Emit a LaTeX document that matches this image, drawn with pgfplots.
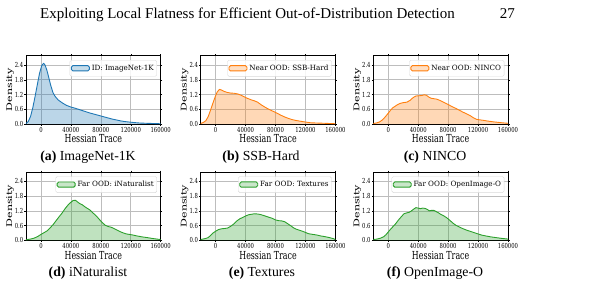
\documentclass[border=0pt]{standalone}
\usepackage{fontspec}
\setmainfont{Liberation Serif}
\newfontfamily\dvs{DejaVu Serif}
\usepackage{pgfplots}
\usepackage{pgfplotstable}
\pgfplotsset{compat=1.18}

\definecolor{mblue}{HTML}{1F77B4}
\definecolor{morange}{HTML}{FF7F0E}
\definecolor{mgreen}{HTML}{2CA02C}

% Hessian-trace densities (density in units of 1e-5)
\pgfplotstableread{
x y
-20000 0.02
-17000 0.10
-14000 0.30
-11000 0.65
-8000 1.10
-5000 1.58
-2000 2.05
1000 2.38
3500 2.47
5500 2.40
8000 2.18
10500 1.88
13000 1.58
16000 1.28
19000 1.12
23000 0.98
28000 0.87
34000 0.76
40000 0.69
46000 0.64
52000 0.58
58000 0.52
64000 0.46
70000 0.41
76000 0.36
82000 0.31
88000 0.26
94000 0.21
100000 0.17
106000 0.13
112000 0.10
118000 0.08
124000 0.06
132000 0.04
140000 0.03
150000 0.02
160000 0.01
}\dataImageNet

\pgfplotstableread{
x y
-20000 0.02
-16000 0.07
-13000 0.14
-10000 0.30
-7000 0.55
-4000 0.82
-1000 1.08
2000 1.30
5000 1.41
8000 1.38
12000 1.32
16000 1.28
20000 1.26
25000 1.25
30000 1.22
34000 1.17
38000 1.11
42000 1.05
47000 0.99
52000 0.94
56000 0.89
60000 0.80
64000 0.72
68000 0.65
73000 0.57
78000 0.50
82000 0.44
87000 0.36
92000 0.29
97000 0.23
102000 0.18
108000 0.14
114000 0.11
120000 0.08
127000 0.05
135000 0.04
145000 0.03
160000 0.01
}\dataSSB

\pgfplotstableread{
x y
-20000 0.02
-16000 0.04
-12000 0.08
-9000 0.14
-6000 0.22
-3000 0.33
0 0.44
3000 0.56
6000 0.66
9000 0.72
12000 0.78
16000 0.84
20000 0.87
25000 0.89
29000 0.96
33000 1.07
37000 1.14
41000 1.15
45000 1.16
48000 1.19
51000 1.17
54000 1.10
57000 1.05
61000 1.03
65000 1.01
69000 0.96
73000 0.90
77000 0.84
81000 0.78
85000 0.71
90000 0.64
95000 0.56
100000 0.48
105000 0.41
110000 0.33
114000 0.25
118000 0.19
122000 0.17
127000 0.15
133000 0.12
140000 0.09
146000 0.07
152000 0.05
160000 0.03
}\dataNINCO

\pgfplotstableread{
x y
-20000 0.02
-14000 0.05
-9000 0.09
-4000 0.16
0 0.24
4000 0.31
8000 0.38
12000 0.50
16000 0.63
20000 0.79
24000 0.95
28000 1.10
32000 1.28
36000 1.43
40000 1.55
43000 1.62
46000 1.63
49000 1.56
52000 1.49
55000 1.45
58000 1.38
62000 1.30
66000 1.22
70000 1.10
74000 0.99
78000 0.85
82000 0.72
86000 0.61
90000 0.56
94000 0.53
98000 0.47
102000 0.41
106000 0.35
110000 0.30
114000 0.26
118000 0.24
122000 0.22
128000 0.18
135000 0.14
142000 0.11
150000 0.07
160000 0.03
}\dataINat

\pgfplotstableread{
x y
-20000 0.03
-14000 0.07
-10000 0.11
-6000 0.22
-3000 0.31
1000 0.39
4000 0.44
8000 0.47
12000 0.48
16000 0.50
20000 0.57
24000 0.66
28000 0.78
32000 0.87
36000 0.93
40000 0.99
44000 1.04
48000 1.06
52000 1.08
56000 1.07
60000 1.05
64000 1.01
68000 0.97
72000 0.93
76000 0.89
80000 0.83
84000 0.80
88000 0.79
92000 0.76
96000 0.68
100000 0.60
104000 0.51
108000 0.45
112000 0.41
116000 0.37
120000 0.32
124000 0.27
128000 0.25
132000 0.23
136000 0.21
140000 0.18
146000 0.15
152000 0.11
157000 0.07
160000 0.03
}\dataTextures

\pgfplotstableread{
x y
-20000 0.03
-15000 0.05
-10000 0.09
-6000 0.15
-3000 0.23
0 0.34
3000 0.45
7000 0.58
10000 0.68
14000 0.84
18000 0.98
21000 1.08
25000 1.12
28000 1.14
31000 1.20
34000 1.27
37000 1.33
40000 1.31
43000 1.29
46000 1.31
49000 1.30
52000 1.26
55000 1.20
58000 1.22
61000 1.22
64000 1.17
67000 1.12
70000 1.06
74000 1.00
78000 0.92
82000 0.82
86000 0.71
90000 0.62
95000 0.54
100000 0.47
105000 0.41
110000 0.36
115000 0.31
120000 0.26
125000 0.21
130000 0.18
137000 0.14
144000 0.11
151000 0.08
160000 0.05
}\dataOpenImage

\newcommand{\tickfont}{\dvs\fontsize{5.3}{6}\selectfont}

% the panels are set a little taller than wide, so their lettering is stretched vertically
\pgfplotsset{
  panel/.style={
    scale only axis, width=134.7pt, height=68.3pt,
    xmin=-20000, xmax=160000, ymin=0, ymax=2.78,
    xtick={0,40000,80000,120000,160000},
    ytick={0,0.6,1.2,1.8,2.4},
    scaled x ticks=false, scaled y ticks=false,
    /pgf/number format/assume math mode=true,
    xticklabel style={/pgf/number format/fixed, /pgf/number format/precision=0,
      /pgf/number format/1000 sep={}, font=\tickfont, inner sep=1pt, yscale=1.3},
    yticklabel style={/pgf/number format/fixed, /pgf/number format/fixed zerofill,
      /pgf/number format/precision=1, font=\tickfont, inner sep=1pt, yscale=1.3},
    grid=major, major grid style={color=black!26, line width=0.6pt},
    axis line style={line width=0.7pt},
    tick align=outside, major tick length=1.5pt, tick style={black, line width=0.5pt},
    xlabel={Hessian Trace}, ylabel={Density},
    label style={font=\dvs\fontsize{7.9}{9}\selectfont},
    xlabel style={at={(axis description cs:0.5,0)}, anchor=base,
      inner sep=0pt, yscale=1.4, yshift=-13.5pt},
    ylabel style={at={([xshift=-16pt]axis description cs:0,0.5)}, anchor=center,
      inner sep=0pt, xscale=1.4},
    legend style={at={([xshift=-3.7pt,yshift=-4.3pt]axis description cs:1,1)}, anchor=north east,
      draw=black!15, rounded corners=1.5pt, fill=white, fill opacity=0.85, text opacity=1,
      font=\dvs\fontsize{7.2}{8}\selectfont, inner xsep=1pt, inner ysep=2.6pt},
    legend image code/.code={\draw[##1] (0pt,-2.6pt) rectangle (18pt,2.6pt);},
  },
  dens/.style={draw=none, fill=#1, fill opacity=0.3, forget plot},
  densline/.style={draw=#1, line width=0.9pt, line join=round, forget plot},
}

\newcommand{\scalelabel}{%
  \node[anchor=south west, inner sep=0pt, yscale=1.3, font=\dvs\fontsize{4.2}{5}\selectfont]
    at ([yshift=1pt]rel axis cs:0,1) {×10\textsuperscript{−5}};}

\begin{document}
\begin{tikzpicture}
\useasboundingbox (0,0) rectangle (614pt,-285pt);

% running head
\node[anchor=base west, inner sep=0pt, font=\fontsize{15}{17}\selectfont]
  at (40pt,-18pt) {Exploiting Local Flatness for Efficient Out-of-Distribution Detection};
\node[anchor=base east, inner sep=0pt, font=\fontsize{15}{17}\selectfont]
  at (515pt,-18pt) {27};

% (a) ImageNet-1K
\begin{axis}[panel, at={(26pt,-55.7pt)}, anchor=north west]
  \addplot[dens=mblue] table {\dataImageNet} \closedcycle;
  \addplot[densline=mblue] table {\dataImageNet};
  \addlegendimage{draw=mblue, fill=mblue!30, line width=0.9pt}
  \addlegendentry{ID: ImageNet-1K}
  \scalelabel
\end{axis}

% (b) SSB-Hard
\begin{axis}[panel, at={(200.7pt,-55.7pt)}, anchor=north west]
  \addplot[dens=morange] table {\dataSSB} \closedcycle;
  \addplot[densline=morange] table {\dataSSB};
  \addlegendimage{draw=morange, fill=morange!30, line width=0.9pt}
  \addlegendentry{Near OOD: SSB-Hard}
  \scalelabel
\end{axis}

% (c) NINCO
\begin{axis}[panel, at={(373.3pt,-55.7pt)}, anchor=north west]
  \addplot[dens=morange] table {\dataNINCO} \closedcycle;
  \addplot[densline=morange] table {\dataNINCO};
  \addlegendimage{draw=morange, fill=morange!30, line width=0.9pt}
  \addlegendentry{Near OOD: NINCO}
  \scalelabel
\end{axis}

% (d) iNaturalist
\begin{axis}[panel, at={(26pt,-172pt)}, anchor=north west]
  \addplot[dens=mgreen] table {\dataINat} \closedcycle;
  \addplot[densline=mgreen] table {\dataINat};
  \addlegendimage{draw=mgreen, fill=mgreen!30, line width=0.9pt}
  \addlegendentry{Far OOD: iNaturalist}
  \scalelabel
\end{axis}

% (e) Textures
\begin{axis}[panel, at={(200.7pt,-172pt)}, anchor=north west]
  \addplot[dens=mgreen] table {\dataTextures} \closedcycle;
  \addplot[densline=mgreen] table {\dataTextures};
  \addlegendimage{draw=mgreen, fill=mgreen!30, line width=0.9pt}
  \addlegendentry{Far OOD: Textures}
  \scalelabel
\end{axis}

% (f) OpenImage-O
\begin{axis}[panel, at={(373.3pt,-172pt)}, anchor=north west]
  \addplot[dens=mgreen] table {\dataOpenImage} \closedcycle;
  \addplot[densline=mgreen] table {\dataOpenImage};
  \addlegendimage{draw=mgreen, fill=mgreen!30, line width=0.9pt}
  \addlegendentry{Far OOD: OpenImage-O}
  \scalelabel
\end{axis}

% subfigure captions
\begin{scope}[every node/.style={anchor=base, inner sep=0pt, font=\fontsize{13.8}{16}\selectfont}]
  \node at (88pt,-160pt)  {\textbf{(a)} ImageNet-1K};
  \node at (261pt,-160pt) {\textbf{(b)} SSB-Hard};
  \node at (435pt,-160pt) {\textbf{(c)} NINCO};
  \node at (88pt,-276pt)  {\textbf{(d)} iNaturalist};
  \node at (262pt,-276pt) {\textbf{(e)} Textures};
  \node at (435pt,-276pt) {\textbf{(f)} OpenImage-O};
\end{scope}
\end{tikzpicture}
\end{document}
